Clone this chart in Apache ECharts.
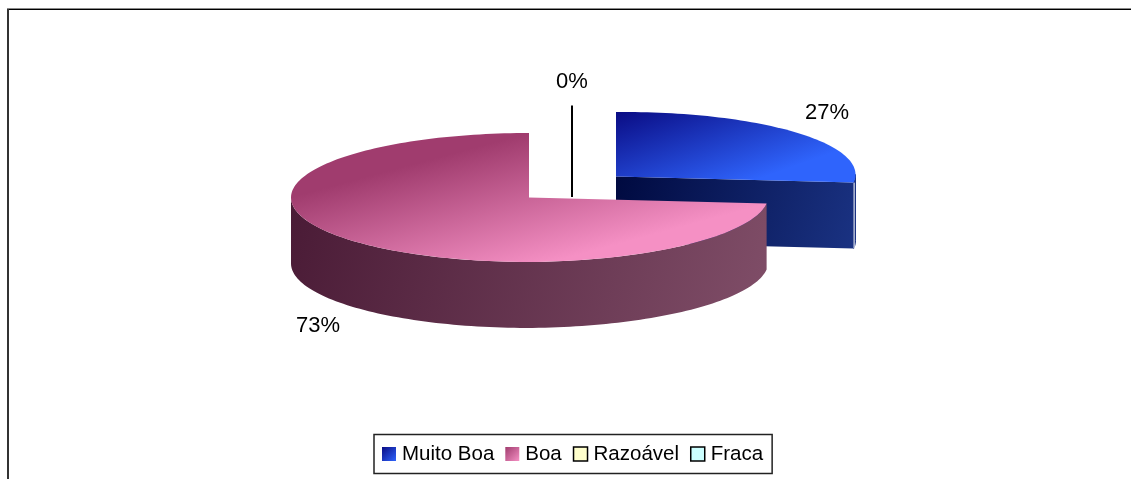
<!DOCTYPE html>
<html>
<head>
<meta charset="utf-8">
<style>html,body{margin:0;padding:0;background:#fff}#c{width:1131px;height:479px}</style>
<script src="https://cdn.jsdelivr.net/npm/echarts@6/dist/echarts.min.js"></script>
</head>
<body>
<div id="c"></div>
<script>
const categories = ['Muito Boa', 'Boa', 'Razoável', 'Fraca'];
const percentValues = [27, 73, 0, 0];

const total = percentValues.reduce((a, b) => a + b, 0);
const RX_LEFT = 238, RX_RIGHT = 239.5, RY = 64.5, DEPTH = 66, RIGHT_LIFT = 2;
const FONT = '"Liberation Sans", Arial, sans-serif';

const globalGrad = (s, e, stops) => ({
  type: 'linear', global: true, x: s[0], y: s[1], x2: e[0], y2: e[1],
  colorStops: stops.map((c, i) => ({ offset: i / (stops.length - 1), color: c }))
});

// per-slice drawing style
const looks = [
  { cx: 616, cy: 176.5, label: [827, 112.5],
    top: globalGrad([616, 112], [652.5, 216], ['#0a0c84', '#2f64fc']),
    side: globalGrad([616, 176], [853, 248], ['#000a40', '#1a3282']), rim: '#1a3282' },
  { cx: 529, cy: 197.5, label: [318, 325.5],
    top: globalGrad([529, 133], [563, 259], ['#a03c6e', '#f590c4']),
    side: globalGrad([291, 200], [767, 328], ['#4a1b36', '#804e68']) },
  { cx: 572, cy: 197, label: [572, 82], leader: true },
  { cx: 572, cy: 197, label: [572, 82], leader: true, hidden: true }
];
const swatches = [
  new echarts.graphic.LinearGradient(0, 0, 1, 1, [{ offset: 0, color: '#0a0c84' }, { offset: 1, color: '#2f64fc' }]),
  new echarts.graphic.LinearGradient(0, 0, 1, 1, [{ offset: 0, color: '#a03c6e' }, { offset: 1, color: '#f590c4' }]),
  '#ffffcc', '#ccffff'
];

function point(look, deg, dy) {
  const a = deg * Math.PI / 180, s = Math.sin(a);
  return [look.cx + (s >= 0 ? RX_RIGHT : RX_LEFT) * s,
    look.cy - RY * Math.cos(a) - (s > 0 ? RIGHT_LIFT * s : 0) + (dy || 0)];
}
function arc(look, from, to, dy) {
  const pts = [];
  const n = Math.max(2, Math.ceil(Math.abs(to - from) / 1.5));
  for (let i = 0; i <= n; i++) pts.push(point(look, from + (to - from) * i / n, dy));
  return pts;
}
function text(str, pos) {
  return { type: 'text', z2: 10, style: { text: str, x: pos[0], y: pos[1], align: 'center', verticalAlign: 'middle',
    font: '22px ' + FONT, fill: '#000' } };
}
function makeRender(index) {
  return function (params, api) {
    const v = api.value(0), look = looks[index];
    const before = percentValues.slice(0, index).reduce((a, b) => a + b, 0);
    const start = before / total * 360, end = (before + v) / total * 360;
    const label = v / total * 100;
    const children = [];
    if (v === 0) {
      if (look.hidden) return { type: 'group', children };
      children.push({ type: 'line', shape: { x1: look.cx, y1: 105.5, x2: look.cx, y2: look.cy },
        style: { stroke: '#000', lineWidth: 2 } });
      children.push(text(Math.round(label) + '%', look.label));
      return { type: 'group', children };
    }
    const c = [look.cx, look.cy], cb = [look.cx, look.cy + DEPTH];
    // slice whose cut face at the end angle is seen from the front
    if (end <= 180) {
      const e = point(look, end), eb = point(look, end, DEPTH);
      const rim = arc(look, 90, end).concat(arc(look, end, 90, DEPTH));
      children.push({ type: 'polygon', shape: { points: rim }, style: { fill: look.rim, stroke: look.rim, lineWidth: 1 } });
      children.push({ type: 'polygon', shape: { points: [c, e, eb, cb] },
        style: { fill: look.side } });
      children.push({ type: 'line', shape: { x1: e[0] + 0.5, y1: e[1], x2: eb[0] + 0.5, y2: eb[1] },
        style: { stroke: '#fff', lineWidth: 1 } });
    }
    // outer wall of the front-facing arc
    if (start >= 90 || end >= 270) {
      const wf = Math.max(start, 90), wt = Math.min(end, 270);
      const wall = arc(look, wf, wt).concat(arc(look, wt, wf, DEPTH));
      children.push({ type: 'polygon', shape: { points: wall }, style: { fill: look.side } });
    }
    // top face
    children.push({ type: 'polygon', shape: { points: [c].concat(arc(look, start, end)) },
      style: { fill: look.top } });
    children.push(text(Math.round(label) + '%', look.label));
    return { type: 'group', children };
  };
}

const chart = echarts.init(document.getElementById('c'), null, { renderer: 'canvas' });
const drawOrder = [0, 2, 3, 1];
chart.setOption({
  animation: false,
  backgroundColor: '#fff',
  graphic: [
    { type: 'line', shape: { x1: 7, y1: 8.5, x2: 1131, y2: 8.5 }, style: { stroke: '#8a8a8a', lineWidth: 1 } },
    { type: 'line', shape: { x1: 7, y1: 9.5, x2: 1131, y2: 9.5 }, style: { stroke: '#000', lineWidth: 1 } },
    { type: 'line', shape: { x1: 8, y1: 9, x2: 8, y2: 479 }, style: { stroke: '#333', lineWidth: 2 } }
  ],
  legend: {
    left: 374, top: 434.5,
    data: categories.map((name, i) => ({
      name, icon: 'rect',
      itemStyle: { color: swatches[i], borderColor: i > 1 ? '#000' : 'transparent', borderWidth: i > 1 ? 1.5 : 0 }
    })),
    orient: 'horizontal',
    itemWidth: 14, itemHeight: 14, itemGap: 11,
    padding: [9, 9, 9, 8],
    backgroundColor: '#fff', borderColor: '#222', borderWidth: 1.5, borderRadius: 0,
    selectedMode: false,
    textStyle: { fontFamily: 'Liberation Sans', fontSize: 20.5, color: '#000', padding: [0, 0, 0, 1] }
  },
  series: drawOrder.map(i => ({
    type: 'custom', name: categories[i], coordinateSystem: 'none', silent: true,
    itemStyle: { color: '#888' },
    renderItem: makeRender(i), data: [[percentValues[i]]]
  }))
});
</script>
</body>
</html>
